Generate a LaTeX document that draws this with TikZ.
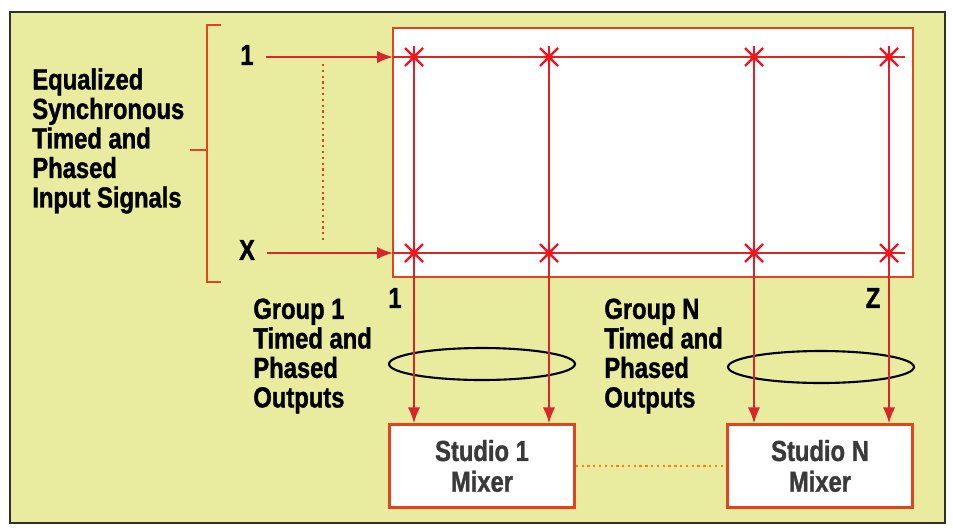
\documentclass[tikz,border=0pt]{standalone}
\usepackage{fontspec}
\setmainfont[FakeStretch=0.82, BoldFeatures={FakeBold=1.2}]{Liberation Sans}
\usepackage{tikz}
\usetikzlibrary{arrows.meta}
\definecolor{bgyellow}{HTML}{E9EC9E}
\definecolor{boxred}{HTML}{E2441F}
\definecolor{gridred}{HTML}{D9262B}
\definecolor{starred}{HTML}{F5141E}
\definecolor{framegray}{HTML}{2E302A}
\definecolor{mixtext}{HTML}{3A3A3A}
\tikzset{txt/.style = {font = \bfseries\fontsize{16.5}{16.8}\selectfont, align = left, inner sep = 0pt}}
\tikzset{mixer/.style = {draw = boxred, fill = white, line width = 1.4pt, minimum width = 3.7cm, minimum height = 1.66cm, align = center, text = mixtext, font = \bfseries\fontsize{16.5}{17.5}\selectfont}}
\tikzset{edge/.style = {-{Latex[length = 9pt, width = 7pt]}, draw = gridred, fill = gridred, line width = 1.1pt}}
\tikzset{wire/.style = {draw = gridred, line width = 1.1pt}}
\tikzset{dots/.style = {dotted, line width = 1.3pt, draw = boxred}}

\begin{document}
\begin{tikzpicture}[x = 0.02cm, y = -0.02cm]
			\useasboundingbox (0, 0) rectangle (953, 528);
			\draw[framegray, line width = 1.5pt, fill = bgyellow] (10, 12) rectangle (945, 523);
			\draw[boxred, line width = 1.4pt, fill = white] (393, 28) rectangle (913, 277);

			\node[txt, anchor = west] (eq) at (32, 141) {Equalized\\Synchronous\\Timed and\\Phased\\Input Signals};
			\node[txt] (in1) at (247, 55) {1};
			\node[txt] (inX) at (247, 250) {X};
			\node[txt, anchor = west] (g1) at (253, 356) {Group 1\\Timed and\\Phased\\Outputs};
			\node[txt, anchor = west] (gN) at (604, 356) {Group N\\Timed and\\Phased\\Outputs};
			\node[txt] (out1) at (395, 298) {1};
			\node[txt] (outZ) at (873, 298) {Z};
			\node[mixer] (m1) at (482, 466) {Studio 1\\Mixer};
			\node[mixer] (mN) at (820, 466) {Studio N\\Mixer};

			\coordinate (a1) at (393, 57);
			\coordinate (aX) at (393, 253);
			\coordinate (t1) at (414, 57);
			\coordinate (t2) at (549, 57);
			\coordinate (t3) at (754, 57);
			\coordinate (t4) at (889, 57);

			% bracket
			\draw[boxred, line width = 1.2pt] (221, 25) -- (207, 25) -- (207, 282) -- (221, 282);
			\draw[boxred, line width = 1.2pt] (190, 150) -- (207, 150);

			% ellipses
			\draw[black, line width = 1.2pt] (482, 364) ellipse [x radius = 1.86cm, y radius = 0.32cm];
			\draw[black, line width = 1.2pt] (821, 367) ellipse [x radius = 1.86cm, y radius = 0.32cm];

			\draw[edge] (in1.east |- a1) ++(12, 0) -- (a1);
			\draw[edge] (inX.east |- aX) ++(12, 0) -- (aX);
			\draw[dots] (323, 64) -- (323, 242);
			\draw[wire] (a1) -- (905, 57);
			\draw[wire] (aX) -- (905, 253);

			\draw[edge] (t1) to (t1 |- m1.north);
			\draw[edge] (t2) to (t2 |- m1.north);
			\draw[edge] (t3) to (t3 |- mN.north);
			\draw[edge] (t4) to (t4 |- mN.north);

			\foreach \x in {414, 549, 754, 889}
				\foreach \y in {57, 253} {
					\draw[starred, line width = 1.3pt] ({\x-9}, {\y-9}) -- ({\x+9}, {\y+9});
					\draw[starred, line width = 1.3pt] ({\x-9}, {\y+9}) -- ({\x+9}, {\y-9});
					\draw[starred, line width = 1.3pt] (\x, {\y-11}) -- (\x, {\y+11});
					\fill[starred] (\x, \y) circle (0.08cm);
				}

			\draw[dots, draw = orange] (m1) to (mN);
		\end{tikzpicture}
\end{document}
